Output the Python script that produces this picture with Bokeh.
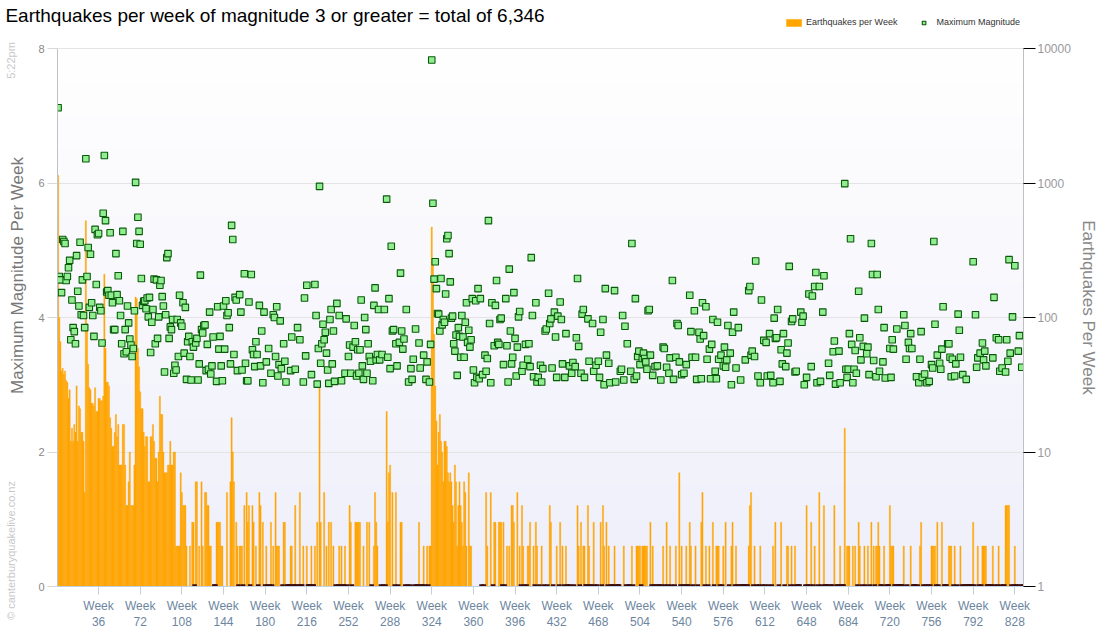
import numpy as np
from bokeh.plotting import figure
from bokeh.models import (Range1d, LinearAxis, LogScale, FixedTicker, PrintfTickFormatter,
                          Legend, LegendItem, ColumnDataSource)
from bokeh.embed import file_html
from bokeh.resources import INLINE

TITLE = "Earthquakes per week of magnitude 3 or greater = total of 6,346"
LEFT_TITLE = "Maximum Magnitude Per Week"
RIGHT_TITLE = "Earthquakes Per Week"
SERIES_BARS = "Earthquakes per Week"
SERIES_MAG = "Maximum Magnitude"
STAMP = "5:22pm"
CREDIT = "\u00a9 canterburyquakelive.co.nz"

# ---- weekly earthquake counts (M3+), 36 weeks per row ----
counts_01 = [1140, 100, 66, 40, 42, 38, 40, 34, 33, 25, 29, 12, 15, 12, 16, 14, 31, 12, 22, 21, 14, 14, 12, 5, 525, 90, 45, 30, 29, 23, 23, 22, 30, 20, 20, 25]
counts_02 = [25, 24, 24, 26, 210, 59, 33, 33, 31, 18, 15, 11, 11, 14, 19, 13, 16, 8, 8, 8, 16, 16, 8, 4, 4, 6, 10, 4, 4, 4, 8, 142, 138, 59, 43, 28]
counts_03 = [21, 21, 14, 11, 13, 13, 6, 6, 13, 13, 16, 12, 9, 9, 6, 10, 26, 19, 19, 10, 7, 7, 7, 8, 8, 12, 8, 8, 10, 10, 2, 2, 2, 2, 7, 5]
counts_04 = [4, 4, 4, 2, 1, 1, 2, 1, 3, 3, 0, 6, 6, 1, 2, 1, 6, 2, 1, 5, 5, 4, 4, 2, 2, 1, 1, 0, 0, 3, 3, 3, 3, 2, 2, 1]
counts_05 = [1, 1, 5, 1, 1, 6, 18, 10, 6, 1, 3, 2, 0, 2, 2, 2, 0, 4, 1, 5, 3, 4, 0, 1, 4, 3, 1, 2, 1, 0, 5, 4, 1, 3, 1, 0]
counts_06 = [2, 0, 1, 0, 3, 0, 2, 1, 5, 2, 2, 2, 1, 1, 0, 3, 3, 1, 0, 0, 0, 2, 2, 0, 0, 4, 0, 1, 0, 5, 0, 0, 2, 1, 1, 2]
counts_07 = [0, 0, 0, 2, 0, 0, 2, 1, 3, 1, 30, 3, 1, 1, 5, 1, 2, 1, 3, 1, 3, 1, 2, 1, 0, 1, 0, 2, 0, 2, 0, 0, 2, 1, 0, 1]
counts_08 = [4, 3, 0, 1, 1, 3, 3, 3, 3, 3, 1, 1, 2, 1, 1, 3, 1, 3, 1, 0, 1, 2, 5, 3, 2, 1, 1, 0, 1, 0, 1, 0, 20, 3, 7, 8]
counts_09 = [1, 5, 1, 0, 5, 1, 0, 1, 3, 3, 1, 1, 0, 1, 0, 1, 0, 1, 1, 1, 0, 1, 0, 0, 3, 1, 0, 0, 2, 0, 1, 2, 0, 2, 2, 470]
counts_10 = [250, 75, 31, 17, 8, 14, 19, 12, 10, 6, 12, 12, 11, 7, 6, 7, 6, 4, 3, 8, 6, 2, 4, 6, 4, 3, 2, 6, 5, 2, 1, 7, 2, 2, 1, 1]
counts_11 = [1, 1, 1, 1, 1, 1, 0, 1, 0, 1, 5, 2, 1, 1, 5, 1, 0, 3, 3, 1, 1, 3, 3, 3, 0, 3, 0, 1, 2, 1, 2, 1, 4, 4, 3, 1]
counts_12 = [1, 5, 1, 2, 0, 4, 2, 0, 1, 0, 2, 2, 3, 1, 1, 2, 0, 3, 2, 1, 0, 1, 2, 1, 0, 1, 1, 0, 1, 4, 3, 1, 0, 1, 1, 2]
counts_13 = [1, 0, 3, 1, 2, 0, 1, 2, 0, 0, 1, 0, 1, 1, 0, 1, 1, 4, 2, 0, 3, 1, 2, 2, 0, 0, 4, 2, 0, 0, 1, 3, 0, 1, 0, 1]
counts_14 = [1, 3, 0, 4, 2, 1, 3, 0, 2, 1, 0, 0, 0, 2, 1, 0, 0, 0, 1, 1, 1, 2, 1, 0, 1, 0, 0, 1, 2, 0, 1, 1, 2, 2, 2, 2]
counts_15 = [0, 2, 2, 2, 2, 2, 1, 1, 3, 0, 2, 0, 1, 0, 1, 0, 0, 1, 0, 2, 1, 0, 3, 0, 1, 2, 0, 1, 1, 0, 2, 1, 1, 7, 0, 2]
counts_16 = [0, 1, 0, 2, 0, 0, 3, 2, 1, 0, 1, 2, 1, 0, 1, 1, 3, 5, 1, 0, 2, 1, 0, 2, 1, 1, 3, 0, 1, 2, 2, 2, 0, 1, 0, 2]
counts_17 = [1, 3, 1, 1, 0, 1, 2, 3, 1, 0, 2, 0, 1, 0, 1, 0, 0, 0, 1, 0, 0, 2, 4, 5, 1, 0, 2, 1, 0, 1, 0, 2, 1, 0, 1, 0]
counts_18 = [1, 1, 0, 1, 1, 0, 2, 1, 3, 1, 1, 0, 1, 3, 1, 1, 0, 1, 2, 2, 1, 0, 2, 1, 0, 2, 1, 0, 0, 0, 1, 1, 1, 1, 0, 4]
counts_19 = [0, 1, 0, 3, 1, 0, 2, 1, 1, 0, 5, 1, 0, 1, 4, 0, 0, 0, 1, 1, 0, 0, 1, 4, 1, 0, 0, 1, 2, 0, 0, 0, 15, 1, 2, 2]
counts_20 = [2, 1, 1, 2, 1, 2, 1, 0, 3, 2, 1, 0, 1, 2, 0, 1, 2, 1, 0, 3, 1, 2, 0, 2, 2, 3, 2, 0, 0, 1, 2, 1, 0, 0, 0, 4]
counts_21 = [2, 2, 2, 0, 0, 1, 0, 0, 0, 0, 0, 2, 1, 1, 0, 1, 1, 2, 1, 0, 0, 0, 1, 0, 1, 2, 3, 1, 0, 1, 0, 1, 0, 1, 0, 2]
counts_22 = [2, 2, 2, 0, 3, 0, 1, 1, 3, 1, 0, 0, 0, 1, 2, 2, 2, 1, 0, 2, 1, 0, 1, 1, 2, 0, 1, 0, 0, 1, 0, 0, 0, 0, 0, 3]
counts_23 = [0, 1, 1, 2, 0, 1, 0, 2, 2, 2, 2, 0, 0, 0, 0, 0, 2, 1, 0, 1, 0, 2, 1, 0, 1, 0, 0, 4, 4, 4, 4, 1, 0, 1, 0, 2]
counts_24 = [0, 0, 1, 1, 0, 1, 0]

# ---- maximum magnitude per week (0 = no M3+ quake that week) ----
mags_01 = [7.12, 4.61, 4.56, 4.37, 5.16, 5.13, 5.10, 4.55, 4.61, 4.74, 4.85, 3.67, 4.26, 3.85, 3.79, 3.61, 4.92, 4.39, 4.17, 5.12, 4.04, 4.56, 4.03, 3.85, 6.36, 4.61, 5.04, 4.15, 4.94, 4.22, 4.03, 3.72, 5.31, 4.49, 5.23, 5.25]
mags_02 = [4.15, 4.10, 3.62, 5.55, 6.41, 5.44, 4.38, 4.40, 4.33, 5.26, 4.33, 4.22, 3.82, 3.82, 4.95, 4.34, 4.62, 4.25, 4.03, 3.61, 5.28, 3.46, 3.82, 3.49, 4.17, 3.92, 3.68, 3.59, 3.42, 3.54, 4.10, 6.01, 5.10, 5.49, 5.28, 5.09]
mags_03 = [4.58, 4.18, 4.24, 4.25, 4.13, 4.29, 4.01, 4.30, 3.48, 3.93, 4.12, 4.57, 3.61, 4.56, 3.69, 4.01, 4.48, 4.55, 4.31, 4.17, 3.19, 4.04, 4.89, 4.95, 3.69, 3.86, 3.82, 3.97, 3.17, 3.29, 3.22, 3.97, 3.42, 4.33, 3.92, 3.87]
mags_04 = [4.22, 3.47, 4.15, 3.08, 3.64, 3.72, 3.42, 3.07, 3.64, 3.56, 0, 3.62, 3.69, 3.07, 3.31, 4.63, 3.82, 3.77, 3.88, 3.89, 3.21, 3.60, 3.23, 4.08, 3.16, 3.28, 3.71, 0, 0, 3.05, 4.16, 3.53, 3.72, 3.28, 3.06, 4.17]
mags_05 = [3.53, 4.25, 4.03, 4.07, 3.85, 3.31, 5.37, 5.16, 3.45, 4.30, 4.26, 3.21, 0, 4.34, 4.08, 3.22, 0, 4.65, 3.32, 3.06, 3.06, 4.23, 0, 4.64, 3.52, 3.45, 3.27, 3.64, 3.45, 0, 4.18, 3.28, 3.80, 3.03, 4.08, 0]
mags_06 = [3.34, 0, 3.54, 0, 3.17, 0, 4.04, 4.00, 3.42, 4.16, 3.13, 3.30, 3.95, 3.24, 0, 3.61, 3.35, 3.04, 0, 0, 0, 3.21, 3.71, 0, 0, 3.23, 0, 3.85, 0, 3.67, 0, 0, 3.04, 4.29, 3.43, 4.48]
mags_07 = [0, 0, 0, 3.15, 0, 0, 4.49, 4.03, 3.01, 3.54, 5.95, 3.32, 3.61, 3.90, 3.67, 3.78, 3.47, 3.22, 3.02, 3.97, 4.12, 3.31, 3.80, 3.05, 0, 4.21, 0, 4.03, 0, 3.06, 0, 0, 3.17, 3.98, 0, 3.42]
mags_08 = [3.59, 3.17, 0, 3.56, 3.88, 3.64, 3.13, 3.52, 3.17, 3.52, 4.26, 3.28, 3.08, 4.00, 3.82, 3.17, 3.61, 3.42, 3.35, 0, 3.06, 4.18, 4.44, 3.37, 3.45, 4.12, 3.37, 0, 3.45, 0, 4.12, 0, 5.76, 3.41, 4.28, 3.24]
mags_09 = [5.06, 3.80, 3.82, 0, 3.61, 3.28, 0, 3.63, 4.66, 3.80, 3.53, 3.68, 0, 4.12, 0, 3.04, 0, 3.24, 3.08, 3.38, 0, 3.83, 0, 0, 3.62, 3.25, 0, 0, 3.44, 0, 3.08, 3.34, 0, 3.04, 3.60, 7.83]
mags_10 = [5.70, 4.57, 4.83, 4.43, 4.06, 4.05, 3.80, 4.58, 3.89, 3.97, 3.93, 4.35, 5.17, 5.22, 4.95, 4.53, 3.99, 4.02, 3.61, 3.50, 3.74, 3.14, 3.85, 3.72, 3.41, 4.03, 3.71, 3.41, 3.93, 4.22, 3.63, 3.81, 3.56, 3.67, 4.28, 3.22]
mags_11 = [3.03, 4.25, 3.11, 4.43, 3.09, 4.28, 0, 3.15, 0, 3.44, 3.20, 3.39, 5.44, 3.91, 3.03, 4.22, 0, 3.58, 4.18, 4.55, 3.63, 3.60, 3.97, 3.99, 0, 3.30, 0, 4.28, 3.58, 3.04, 4.72, 3.80, 3.31, 3.41, 4.37, 3.69]
mags_12 = [3.13, 3.56, 4.01, 4.09, 0, 3.20, 3.29, 0, 3.60, 0, 3.38, 3.61, 3.27, 4.89, 4.03, 3.12, 0, 4.22, 3.04, 3.11, 0, 3.29, 3.04, 3.24, 0, 3.80, 3.83, 0, 4.36, 3.91, 3.98, 3.25, 0, 4.08, 3.71, 3.11]
mags_13 = [4.02, 0, 4.23, 3.97, 3.31, 0, 3.11, 3.76, 0, 0, 3.28, 0, 3.17, 3.33, 0, 3.27, 3.70, 4.58, 3.57, 0, 3.17, 4.05, 4.12, 3.11, 0, 0, 3.98, 3.35, 0, 0, 3.91, 3.20, 0, 3.29, 0, 3.35]
mags_14 = [3.11, 3.78, 0, 3.97, 3.00, 4.43, 3.44, 0, 3.32, 3.03, 0, 0, 0, 4.40, 3.04, 0, 0, 0, 3.20, 3.23, 4.03, 3.07, 3.87, 0, 3.61, 0, 0, 3.20, 5.10, 0, 3.08, 4.28, 3.13, 3.42, 3.50, 3.30]
mags_15 = [0, 3.39, 3.47, 3.39, 3.34, 3.23, 4.10, 4.12, 3.44, 0, 3.14, 0, 3.27, 0, 3.28, 0, 0, 3.07, 0, 3.56, 3.54, 0, 3.26, 0, 3.17, 3.40, 0, 4.55, 3.08, 0, 3.41, 3.91, 3.88, 3.34, 0, 3.15]
mags_16 = [0, 3.17, 0, 3.30, 0, 0, 4.33, 3.79, 3.41, 0, 4.10, 3.41, 3.08, 0, 3.78, 3.68, 3.09, 4.22, 3.73, 0, 4.16, 3.38, 0, 3.53, 3.09, 3.60, 3.97, 0, 3.20, 3.09, 3.93, 3.38, 0, 3.44, 0, 3.28]
mags_17 = [3.56, 3.26, 3.37, 3.88, 0, 3.47, 3.00, 3.78, 4.08, 0, 3.25, 0, 3.85, 0, 3.07, 0, 0, 0, 3.37, 0, 0, 4.40, 4.46, 3.44, 3.50, 0, 3.42, 4.84, 0, 3.13, 0, 3.03, 4.26, 0, 3.66, 0]
mags_18 = [3.63, 3.13, 0, 3.76, 3.14, 0, 3.03, 3.99, 3.69, 3.70, 4.12, 0, 3.05, 3.52, 3.31, 3.76, 0, 3.27, 3.47, 3.62, 4.76, 0, 3.94, 3.98, 0, 3.19, 3.20, 0, 0, 0, 4.08, 3.93, 4.02, 3.00, 0, 3.11]
mags_19 = [0, 4.35, 0, 3.27, 4.32, 0, 4.46, 4.67, 3.03, 0, 4.46, 3.05, 0, 4.08, 4.62, 0, 0, 0, 3.32, 3.14, 0, 0, 3.49, 3.65, 3.01, 0, 0, 3.50, 3.03, 0, 0, 0, 5.99, 3.23, 3.11, 3.23]
mags_20 = [3.76, 5.17, 3.60, 3.03, 3.23, 3.51, 3.17, 0, 4.39, 3.70, 3.37, 0, 3.57, 3.99, 0, 3.46, 3.56, 3.15, 0, 5.10, 4.64, 3.36, 0, 3.12, 4.64, 4.12, 3.20, 0, 0, 3.34, 3.85, 3.10, 0, 0, 0, 3.54]
mags_21 = [3.11, 3.67, 3.53, 0, 0, 3.83, 0, 0, 0, 0, 0, 4.04, 3.88, 3.38, 0, 3.63, 3.54, 3.76, 3.54, 0, 0, 0, 3.12, 0, 3.03, 3.38, 3.79, 3.11, 0, 3.16, 0, 3.03, 0, 3.05, 0, 3.30]
mags_22 = [3.25, 5.13, 3.90, 0, 3.44, 0, 3.32, 3.23, 3.53, 4.16, 0, 0, 0, 3.61, 3.61, 3.41, 3.12, 3.38, 0, 3.13, 3.31, 0, 4.05, 3.81, 3.41, 0, 3.15, 0, 0, 3.08, 0, 0, 0, 0, 0, 4.83]
mags_23 = [0, 4.04, 3.26, 3.40, 0, 3.47, 0, 3.62, 3.37, 3.50, 3.28, 0, 0, 0, 0, 0, 3.40, 4.30, 0, 3.70, 0, 3.67, 3.20, 0, 3.25, 0, 0, 3.19, 3.67, 3.35, 4.86, 3.47, 0, 4.01, 0, 4.77]
mags_24 = [0, 0, 3.50, 3.73, 0, 3.26, 0]

count_blocks = [counts_01, counts_02, counts_03, counts_04, counts_05, counts_06, counts_07, counts_08,
                counts_09, counts_10, counts_11, counts_12, counts_13, counts_14, counts_15, counts_16,
                counts_17, counts_18, counts_19, counts_20, counts_21, counts_22, counts_23, counts_24]
mag_blocks = [mags_01, mags_02, mags_03, mags_04, mags_05, mags_06, mags_07, mags_08,
              mags_09, mags_10, mags_11, mags_12, mags_13, mags_14, mags_15, mags_16,
              mags_17, mags_18, mags_19, mags_20, mags_21, mags_22, mags_23, mags_24]

counts = [c for blk in count_blocks for c in blk]
mags = [m for blk in mag_blocks for m in blk]
n_weeks = len(counts)
weeks = list(range(1, n_weeks + 1))

week_ticks = [36, 72, 108, 144, 180, 216, 252, 288, 324, 360, 396, 432, 468, 504, 540, 576, 612, 648, 684, 720, 756, 792, 828]
mag_ticks = [0, 2, 4, 6, 8]
count_ticks = [1, 10, 100, 1000, 10000]

# ---- sources ----
bar_src = ColumnDataSource(dict(week=weeks, top=[c if c > 0 else 1 for c in counts]))
pos_src = ColumnDataSource(dict(week=[w for w, c in zip(weeks, counts) if c > 0],
                                mag=[m for m, c in zip(mags, counts) if c > 0]))
zero_src = ColumnDataSource(dict(week=[w for w, c in zip(weeks, counts) if c == 0],
                                 mag=[m for m, c in zip(mags, counts) if c == 0]))

# ---- layout constants (page pixels) ----
FONT = "Liberation Sans"
W, H = 1100, 636
FRAME_LEFT, FRAME_RIGHT = 57, 1025
FRAME_TOP, PLOT_TOP, FRAME_BOTTOM = 14, 48, 586   # frame reaches above the plot box for the legend row
X_TITLE = 275
Y_LEFT_TITLE, Y_RIGHT_TITLE, Y_CREDIT, Y_STAMP = 275, 307, 550, 60

px_per_mag = (FRAME_BOTTOM - PLOT_TOP) / (mag_ticks[-1] - mag_ticks[0])
head_mag = (PLOT_TOP - FRAME_TOP) / px_per_mag               # extra room above "8"
decades = np.log10(count_ticks[-1]) - np.log10(count_ticks[0])
head_dec = head_mag * decades / (mag_ticks[-1] - mag_ticks[0])

x_range = Range1d(0.5, n_weeks + 0.5)
y_range = Range1d(mag_ticks[0], mag_ticks[-1] + head_mag)

p = figure(width=W, height=H, output_backend="svg", toolbar_location=None, title=None,
           x_range=x_range, y_range=y_range,
           min_border_left=FRAME_LEFT, min_border_right=W - FRAME_RIGHT,
           min_border_top=FRAME_TOP, min_border_bottom=H - FRAME_BOTTOM)
p.outline_line_color = None
p.border_fill_color = "white"
p.background_fill_color = "white"

p.extra_y_ranges = {"count": Range1d(count_ticks[0], count_ticks[-1] * 10 ** head_dec),
                    "page": Range1d(FRAME_BOTTOM, FRAME_TOP)}
p.extra_y_scales = {"count": LogScale()}
p.extra_x_ranges = {"page_x": Range1d(FRAME_LEFT, FRAME_RIGHT)}

# background gradient (white at top to pale lavender at bottom) inside the plot box
grad = np.zeros((256, 1), dtype=np.uint32)
view = grad.view(dtype=np.uint8).reshape((256, 1, 4))
t = np.linspace(0.0, 1.0, 256)
bottom_rgb = np.array([239, 239, 251])
top_rgb = np.array([255, 255, 255])
for k in range(3):
    view[:, 0, k] = (bottom_rgb[k] + (top_rgb[k] - bottom_rgb[k]) * t).astype(np.uint8)
view[:, 0, 3] = 255
p.image_rgba(image=[grad], x=x_range.start, y=mag_ticks[0],
             dw=x_range.end - x_range.start, dh=mag_ticks[-1] - mag_ticks[0], level="image")

# axes
xax = p.below[0]
xax.ticker = FixedTicker(ticks=week_ticks)
xax.major_label_overrides = {t_: "Week\n%d" % t_ for t_ in week_ticks}
xax.major_label_text_font = FONT
xax.major_label_text_font_size = "12px"
xax.major_label_text_color = "#6D869F"
xax.major_tick_out = 8
xax.major_tick_in = 0
xax.minor_tick_out = 0
xax.minor_tick_in = 0
xax.major_tick_line_color = "#C0D0E0"
xax.axis_line_color = "#C0D0E0"
xax.major_label_standoff = 4

yax = p.left[0]
yax.ticker = FixedTicker(ticks=mag_ticks)
yax.bounds = (mag_ticks[0], mag_ticks[-1])
yax.major_label_text_font = FONT
yax.major_label_text_font_size = "11px"
yax.major_label_text_color = "#888888"
yax.major_tick_out = 10
yax.major_tick_in = 0
yax.minor_tick_out = 0
yax.minor_tick_in = 0
yax.major_tick_line_color = "#D8D8D8"
yax.axis_line_color = "#C0C0C0"
yax.major_label_standoff = 3

rax = LinearAxis(y_range_name="count", ticker=FixedTicker(ticks=count_ticks),
                 formatter=PrintfTickFormatter(format="%d"), bounds=(count_ticks[0], count_ticks[-1]))
rax.major_label_text_font = FONT
rax.major_label_text_font_size = "12px"
rax.major_label_text_color = "#999999"
rax.major_tick_out = 12
rax.major_tick_in = 0
rax.minor_tick_out = 0
rax.minor_tick_in = 0
rax.major_tick_line_color = "#000000"
rax.axis_line_color = "#C0C0C0"
rax.major_label_standoff = 2
p.add_layout(rax, "right")


def text_axis(labels, size, color, standoff, vertical=True):
    """An axis without line or ticks that only carries texts at given page positions."""
    kw = dict(y_range_name="page") if vertical else dict(x_range_name="page_x")
    ax = LinearAxis(ticker=FixedTicker(ticks=list(labels.keys())), major_label_overrides=labels, **kw)
    ax.axis_line_color = None
    ax.major_tick_line_color = None
    ax.minor_tick_line_color = None
    ax.major_tick_out = 0
    ax.major_tick_in = 0
    ax.minor_tick_out = 0
    ax.minor_tick_in = 0
    ax.major_label_orientation = "parallel" if vertical else "horizontal"
    ax.major_label_standoff = standoff
    ax.major_label_text_font = FONT
    ax.major_label_text_font_size = size
    ax.major_label_text_color = color
    return ax


p.add_layout(text_axis({X_TITLE: TITLE}, "19px", "#000000", -11, vertical=False), "above")
p.add_layout(text_axis({Y_LEFT_TITLE: LEFT_TITLE}, "17px", "#777777", 9), "left")
p.add_layout(text_axis({Y_CREDIT: CREDIT, Y_STAMP: STAMP}, "11px", "#C8C8C8", -12), "left")
p.add_layout(text_axis({Y_RIGHT_TITLE: RIGHT_TITLE}, "17px", "#888888", 5), "right")

p.xgrid.visible = False
p.ygrid.ticker = FixedTicker(ticks=mag_ticks)
p.ygrid.grid_line_color = "#E4E4E4"

# data
bars = p.vbar(x="week", bottom=count_ticks[0], top="top", width=1.0, source=bar_src,
              y_range_name="count", fill_color="#FFA500", line_color="#FFA500", line_width=0.4)
pts = p.scatter(x="week", y="mag", source=pos_src, marker="square", size=6.5,
                fill_color="#90EE90", line_color="#0A5A0A", line_width=1.1)
p.scatter(x="week", y="mag", source=zero_src, marker="square", size=4.5,
          fill_color="#3A0C0C", line_color=None)

legend = Legend(items=[LegendItem(label=SERIES_BARS, renderers=[bars]),
                       LegendItem(label=SERIES_MAG, renderers=[pts])],
                location="top_right", orientation="horizontal",
                glyph_width=19, glyph_height=9, label_standoff=3, spacing=17,
                padding=0, margin=3, label_height=9,
                label_text_font=FONT, label_text_font_size="9px", label_text_color="#333333",
                border_line_alpha=0, background_fill_alpha=0)
p.add_layout(legend)

open("out.html", "w").write(file_html(p, INLINE))
